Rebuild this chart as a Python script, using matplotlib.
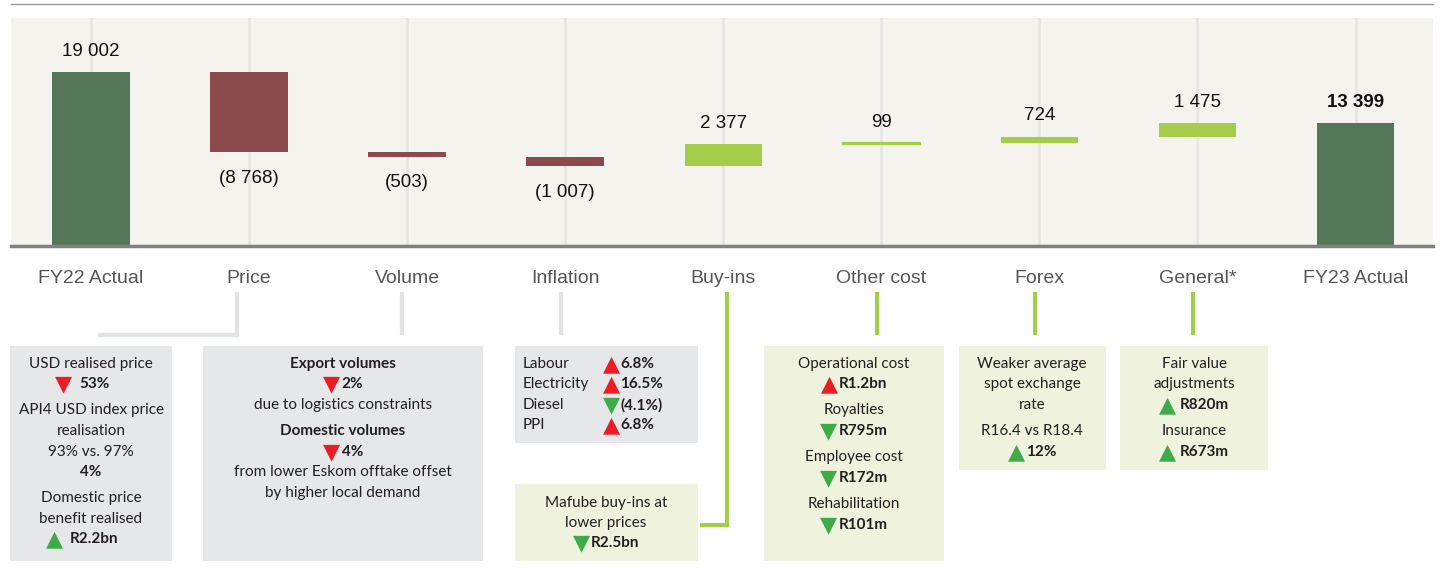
import numpy as np
import matplotlib
matplotlib.use('Agg')
import matplotlib.pyplot as plt
from matplotlib.lines import Line2D
from matplotlib.patches import Rectangle
from matplotlib.offsetbox import TextArea, HPacker, AnnotationBbox

# данные водопада
categories = ['FY22 Actual', 'Price', 'Volume', 'Inflation', 'Buy-ins',
              'Other cost', 'Forex', 'General*', 'FY23 Actual']
values = [19002, -8768, -503, -1007, 2377, 99, 724, 1475, 13399]
value_labels = ['19 002', '(8 768)', '(503)', '(1 007)', '2 377', '99', '724', '1 475', '13 399']
is_total = [True, False, False, False, False, False, False, False, True]

# тексты пояснений
box_price = ['USD realised price', ('down', '53%'), 'API4 USD index price', 'realisation',
             '93% vs. 97%', ('bold', '4%'), 'Domestic price', 'benefit realised', ('up', 'R2.2bn')]
box_volume = [('bold', 'Export volumes'), ('down', '2%'), 'due to logistics constraints',
              ('bold', 'Domestic volumes'), ('down', '4%'), 'from lower Eskom offtake offset',
              'by higher local demand']
infl_items = ['Labour', 'Electricity', 'Diesel', 'PPI']
infl_dirs = ['up_bad', 'up_bad', 'down_good', 'up_bad']
infl_vals = ['6.8%', '16.5%', '(4.1%)', '6.8%']
box_buyins = ['Mafube buy-ins at', 'lower prices', ('down', 'R2.5bn')]
box_other = ['Operational cost', ('up_bad', 'R1.2bn'), 'Royalties', ('down', 'R795m'),
             'Employee cost', ('down', 'R172m'), 'Rehabilitation', ('down', 'R101m')]
box_forex = ['Weaker average', 'spot exchange', 'rate', 'R16.4 vs R18.4', ('up', '12%')]
box_general = ['Fair value', 'adjustments', ('up', 'R820m'), 'Insurance', ('up', 'R673m')]

W, H = 1448, 569
DARK_GREEN = '#537558'
MAROON = '#8b4a4c'
LIME = '#a6cd4a'
RED = '#ed1c24'
GREEN = '#3faa48'
GREY_BOX = '#e6e7e8'
GREEN_BOX = '#eff2dd'
GREY_LINE = '#e2e3e4'
TXT = '#231f20'
FONT = ['Lato', 'DejaVu Sans']

fig = plt.figure(figsize=(W / 100, H / 100), dpi=100)


def fx(x):
    return x / W


def fy(y):
    return 1 - y / H


# верхняя линия
fig.add_artist(Line2D([fx(11), fx(1433)], [fy(4), fy(4)], color='#9a9a9a', lw=1))

ax = fig.add_axes([fx(11), fy(246), fx(1433) - fx(11), (246 - 18) / H])
ax.set_facecolor('#f4f3ed')
x = np.arange(len(categories))

# водопад
bottoms = []
colors = []
run = 0
for v, tot in zip(values, is_total):
    if tot:
        bottoms.append(0)
        colors.append(DARK_GREEN)
        run = v
    else:
        bottoms.append(run if v >= 0 else run + v)
        colors.append(LIME if v >= 0 else MAROON)
        run += v
heights = [abs(v) for v in values]

for xi in x:
    ax.axvline(xi, color='#e6e6e6', lw=2, zorder=0)
# очень маленькие столбики видны только с обводкой
edge_w = [1.6 if h < 300 else 0 for h in heights]
ax.bar(x, heights, bottom=bottoms, width=0.49, color=colors, edgecolor=colors,
       linewidth=edge_w, zorder=2)

for xi, b, h, v, lab, tot in zip(x, bottoms, heights, values, value_labels, is_total):
    if v >= 0:
        ax.annotate(lab, (xi, b + h), xytext=(0, 21), textcoords='offset pixels',
                    ha='center', va='center', fontsize=13.5, family='Liberation Sans',
                    color='#111', weight='bold' if (tot and xi > 0) else 'normal')
    else:
        ax.annotate(lab, (xi, b), xytext=(0, -26), textcoords='offset pixels',
                    ha='center', va='center', fontsize=13.5, family='Liberation Sans', color='#111')

ax.set_xlim(-0.506, 8.49)
ax.set_ylim(0, 24900)
ax.set_yticks([])
ax.set_xticks(x)
ax.set_xticklabels(categories, family='Liberation Sans')
ax.tick_params(axis='x', length=0, pad=17, labelsize=14, labelcolor='#555555')
for s in ['top', 'left', 'right']:
    ax.spines[s].set_visible(False)
ax.spines['bottom'].set_color('#808080')
ax.spines['bottom'].set_linewidth(2.5)


def line(xs, ys, color):
    fig.add_artist(Line2D([fx(a) for a in xs], [fy(b) for b in ys], color=color, lw=3,
                          solid_capstyle='butt', solid_joinstyle='miter'))


# соединительные линии
line([237, 237, 98], [292, 335, 335], GREY_LINE)
line([402, 402], [292, 335], GREY_LINE)
line([561, 561], [292, 335], GREY_LINE)
line([727, 727, 700], [292, 525, 525], LIME)
line([877, 877], [292, 335], LIME)
line([1035, 1035], [292, 335], LIME)
line([1193, 1193], [292, 335], LIME)


def box(x0, y0, x1, y1, color):
    fig.add_artist(Rectangle((fx(x0), fy(y1)), fx(x1) - fx(x0), (y1 - y0) / H,
                             transform=fig.transFigure, facecolor=color, edgecolor='none'))


box(10, 346, 172, 561, GREY_BOX)
box(203, 346, 483, 561, GREY_BOX)
box(515, 346, 698, 443, GREY_BOX)
box(515, 484, 698, 561, GREEN_BOX)
box(764, 346, 944, 561, GREEN_BOX)
box(959, 346, 1106, 470, GREEN_BOX)
box(1120, 346, 1268, 470, GREEN_BOX)

TRI = {'up': ('▲', GREEN), 'down': ('▼', GREEN), 'up_bad': ('▲', RED), 'down_bad': ('▼', RED),
       'down_good': ('▼', GREEN)}


def tri_line(xc, y, kind, value, sep=2, ha=0.5):
    sym, col = TRI[kind]
    tri = TextArea(sym, textprops=dict(color=col, fontsize=16, family='DejaVu Sans'))
    val = TextArea(value, textprops=dict(fontsize=11, weight='bold', family=FONT, color=TXT))
    pack = HPacker(children=[tri, val], align='center', pad=0, sep=sep)
    ab = AnnotationBbox(pack, (fx(xc), fy(y)), xycoords='figure fraction', frameon=False,
                        box_alignment=(ha, 0.5), pad=0)
    fig.add_artist(ab)


def text_block(xc, ys, items, down_color=None, sep=1, tri_dx=0):
    for y, it in zip(ys, items):
        if isinstance(it, str):
            fig.text(fx(xc), fy(y), it, ha='center', va='center', fontsize=11, family=FONT, color=TXT)
        elif it[0] == 'bold':
            fig.text(fx(xc), fy(y), it[1], ha='center', va='center', fontsize=11, family=FONT,
                     color=TXT, weight='bold')
        else:
            kind = it[0]
            if kind == 'down' and down_color == 'red':
                kind = 'down_bad'
            tri_line(xc + tri_dx, y, kind, it[1], sep=sep)


text_block(91, [364, 384, 410, 431, 452, 472, 498, 519, 539], box_price, down_color='red',
           sep=5, tri_dx=-9)
text_block(343, [364, 384, 405, 431, 452, 472, 493], box_volume, down_color='red')
text_block(606, [503, 523, 543], box_buyins)
text_block(854, [364, 384, 410, 431, 457, 478, 504, 525], box_other)
text_block(1032, [364, 384, 405, 431, 452], box_forex)
text_block(1194, [364, 384, 405, 431, 452], box_general, sep=3)

# инфляция - таблица
for y, lab, d, v in zip([364, 384, 405, 425], infl_items, infl_dirs, infl_vals):
    fig.text(fx(523), fy(y), lab, ha='left', va='center', fontsize=11, family=FONT, color=TXT)
    tri_line(603, y, d, v, sep=0, ha=0.0)

fig.savefig('out.png', dpi=100)
